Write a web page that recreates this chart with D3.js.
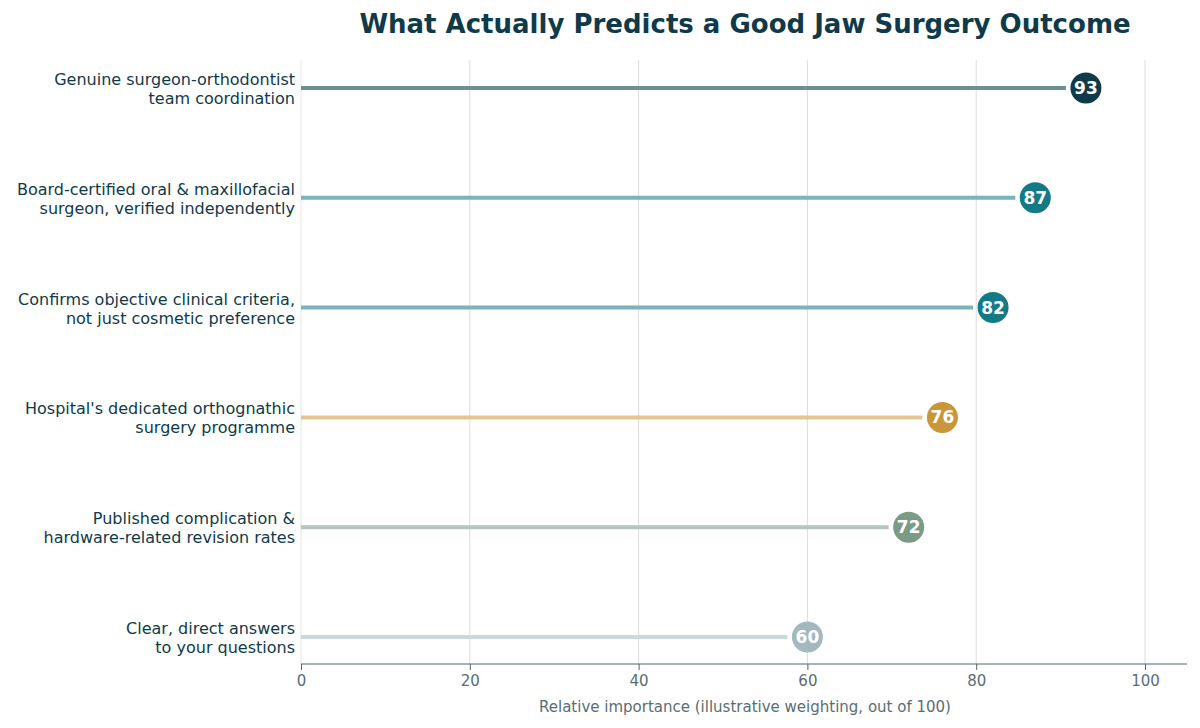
<!DOCTYPE html>
<html><head><meta charset="utf-8">
<script src="https://cdn.jsdelivr.net/npm/d3@7"></script>
<style>body{margin:0;background:#fff}</style></head>
<body><svg id="c" width="1200" height="728"></svg>
<script>
const labels=[["Genuine surgeon-orthodontist","team coordination"],["Board-certified oral & maxillofacial","surgeon, verified independently"],["Confirms objective clinical criteria,","not just cosmetic preference"],["Hospital's dedicated orthognathic","surgery programme"],["Published complication &","hardware-related revision rates"],["Clear, direct answers","to your questions"]];
const values=[93,87,82,76,72,60];
const dotColors=["#0f3a4a","#137a86","#137a86","#c99639","#7b9b86","#a3b8bf"];
const lineColors=["#6f8e92","#79b4bb","#79b4bb","#e2c58f","#b4c4be","#cad9dd"];
const ticks=[0,20,40,60,80,100];
const svg=d3.select("#c"),F="DejaVu Sans";
const x=d3.scaleLinear().domain([0,100]).range([301,1145]);
const y=d3.scaleBand().domain(d3.range(6)).range([33,692]);
const cy=i=>y(i)+y.bandwidth()/2;
svg.append("text").attr("x",745).attr("y",33).attr("text-anchor","middle").attr("font-family",F).attr("font-weight","bold").attr("font-size",26).attr("fill","#0f3a4a").text("What Actually Predicts a Good Jaw Surgery Outcome");
svg.selectAll(".g").data(ticks.slice(1)).join("line").attr("x1",d=>x(d)).attr("x2",d=>x(d)).attr("y1",60).attr("y2",664).attr("stroke","#dcdcdc").attr("stroke-width",1);
svg.append("line").attr("x1",301).attr("x2",301).attr("y1",60).attr("y2",664).attr("stroke","#e6e6e6");
const ax=svg.append("g").attr("transform","translate(0,664)").call(d3.axisBottom(x).tickValues(ticks).tickSize(6).tickPadding(5));
ax.select(".domain").remove();
svg.append("line").attr("x1",301).attr("x2",1187).attr("y1",664).attr("y2",664).attr("stroke","#4f6670");
ax.selectAll("line").attr("stroke","#4f6670");
ax.selectAll("text").attr("font-family",F).attr("font-size",15).attr("fill","#5a6d75");
svg.append("text").attr("x",745).attr("y",712).attr("text-anchor","middle").attr("font-family",F).attr("font-size",15).attr("fill","#5a6d75").text("Relative importance (illustrative weighting, out of 100)");
values.forEach((v,i)=>{
 svg.append("line").attr("x1",x(0)).attr("x2",x(v)-20).attr("y1",cy(i)).attr("y2",cy(i)).attr("stroke",lineColors[i]).attr("stroke-width",4);
 svg.append("circle").attr("cx",x(v)).attr("cy",cy(i)).attr("r",15.5).attr("fill",dotColors[i]);
 svg.append("text").attr("x",x(v)).attr("y",cy(i)+6).attr("text-anchor","middle").attr("font-family",F).attr("font-weight","bold").attr("font-size",17).attr("fill","#fff").text(v);
 labels[i].forEach((l,j)=>svg.append("text").attr("x",295).attr("y",cy(i)-3+j*19).attr("text-anchor","end").attr("font-family",F).attr("font-size",16).attr("fill","#0f3a4a").text(l));
});
</script></body></html>
